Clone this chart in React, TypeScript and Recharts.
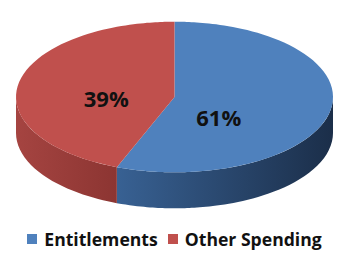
import { PieChart, Pie, Legend } from "recharts";

const categories = ["Entitlements", "Other Spending"];
const shares = [61, 39];
const topColors = ["#4F81BD", "#C0504D"];
const sideLight = ["#386193", "#A54441"];
const sideDark = ["#1B2E49", "#8C3532"];

const pieData = categories.map((name, i) => ({ name, value: shares[i], fill: topColors[i] }));

const RY_RATIO = 0.475; // vertical squash of the tilted disc
const DEPTH = 36; // thickness of the slab
const WARP = (18.6 * Math.PI) / 180; // fake perspective
const LABEL_K = 0.377;
const LABEL_DX = -12;
const LABEL_DY = 11.5;

const toRad = (d: number) => (d * Math.PI) / 180;

// t: angle clockwise from 12 o'clock, in radians
const onRim = (cx: number, cy: number, rx: number, ry: number, t: number, dy: number) => {
    const psi = t - WARP * Math.sin(2 * t);
    return `${(cx + rx * Math.sin(psi)).toFixed(2)},${(cy - ry * Math.cos(psi) + dy).toFixed(2)}`;
};

const rim = (cx: number, cy: number, rx: number, ry: number, t0: number, t1: number, dy: number) => {
    const n = Math.max(2, Math.ceil(Math.abs(t1 - t0) / toRad(2)));
    const pts: string[] = [];
    for (let k = 0; k <= n; k++) pts.push(onRim(cx, cy, rx, ry, t0 + ((t1 - t0) * k) / n, dy));
    return pts;
};

const Slice3D = (props: any) => {
    const { cx, cy, outerRadius, startAngle, endAngle } = props;
    const name = props.name ?? props.payload?.name;
    const i = Math.max(0, categories.indexOf(name));
    const rx = outerRadius;
    const ry = outerRadius * RY_RATIO;
    const t0 = toRad(90 - startAngle);
    const t1 = toRad(90 - endAngle);
    const topPath = `M${cx},${cy}L${rim(cx, cy, rx, ry, t0, t1, 0).join("L")}Z`;
    const s0 = Math.max(t0, Math.PI / 2);
    const s1 = Math.min(t1, (3 * Math.PI) / 2);
    let sidePath = "";
    if (s1 > s0) {
        const upper = rim(cx, cy, rx, ry, s0, s1, 0);
        const lower = rim(cx, cy, rx, ry, s1, s0, DEPTH);
        sidePath = `M${[...upper, ...lower].join("L")}Z`;
    }
    return (
        <g>
            <defs>
                <linearGradient id={`side-${i}`} x1="0" y1="0" x2="1" y2="0">
                    <stop offset="0%" stopColor={sideLight[i]}/>
                    <stop offset="100%" stopColor={sideDark[i]}/>
                </linearGradient>
            </defs>
            {sidePath && <path d={sidePath} fill={`url(#side-${i})`}/>}
            <path d={topPath} fill={topColors[i]}/>
        </g>
    );
};

const renderLabel = (props: any) => {
    const { cx, cy, midAngle, outerRadius, percent } = props;
    const t = toRad(90 - midAngle);
    const x = cx + LABEL_K * outerRadius * Math.sin(t) + LABEL_DX;
    const y = cy - LABEL_K * outerRadius * RY_RATIO * Math.cos(t) + LABEL_DY;
    return (
        <text x={x} y={y + 8} textAnchor="middle" fill="#111" fontFamily="'Open Sans', sans-serif"
              fontWeight={700} fontSize={22}>
            {`${Math.round(percent * 100)}%`}
        </text>
    );
};

const renderLegend = () => (
    <div style={{
        display: "flex", justifyContent: "center", alignItems: "center", height: 20, lineHeight: "20px",
        fontFamily: "'Open Sans', sans-serif", fontWeight: 700, fontSize: 17.6, color: "#111",
    }}>
        {categories.map((name, i) => (
            <span key={name} style={{ display: "flex", alignItems: "center", marginRight: i === 0 ? 10 : 0 }}>
                <span style={{ width: 10, height: 10, background: topColors[i], marginRight: 7 }}/>
                {name}
            </span>
        ))}
    </div>
);

export default function App() {
    return (
        <div style={{ position: "absolute", left: 0, top: 0, background: "#fff" }}>
            <PieChart width={349} height={262} margin={{ top: 0, right: 0, bottom: 0, left: 0 }}>
                <Pie
                    data={pieData}
                    dataKey="value"
                    nameKey="name"
                    cx={174.5}
                    cy={97}
                    outerRadius={158.5}
                    startAngle={90}
                    endAngle={-270}
                    stroke="none"
                    shape={Slice3D}
                    label={renderLabel}
                    labelLine={false}
                    isAnimationActive={false}
                />
                <Legend content={renderLegend}
                        wrapperStyle={{ position: "absolute", left: 0, top: 228.5, bottom: "auto", width: 349 }}/>
            </PieChart>
        </div>
    );
}
